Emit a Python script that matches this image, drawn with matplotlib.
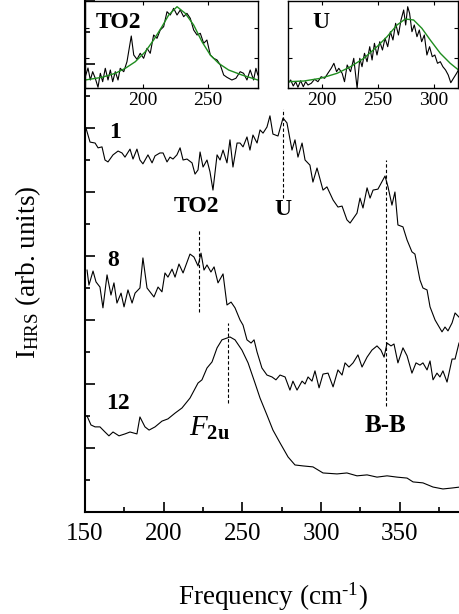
import matplotlib
matplotlib.use("Agg")
import matplotlib.pyplot as plt
from matplotlib.ticker import MultipleLocator

plt.rcParams['font.family'] = 'Liberation Serif'
plt.rcParams['mathtext.fontset'] = 'custom'
plt.rcParams['mathtext.rm'] = 'Liberation Serif'
plt.rcParams['mathtext.it'] = 'Liberation Serif:italic'
plt.rcParams['mathtext.bf'] = 'Liberation Serif:bold'

# spectrum "1"
freq1 = [150.6, 153.2, 156.4, 158.3, 160.8, 162.7, 164.6, 167.8, 171.0, 173.5, 175.4, 178.6, 180.5,
         183.0, 184.9, 186.8, 190.0, 192.6, 194.5, 197.6, 199.6, 202.1, 204.0, 205.9, 208.4, 210.4,
         212.3, 214.8, 218.0, 219.9, 221.8, 223.1, 225.0, 227.5, 229.4, 231.3, 233.9, 235.8, 237.7,
         240.2, 242.1, 244.0, 246.6, 248.5, 250.4, 252.9, 254.8, 256.7, 259.3, 261.2, 263.1, 265.6,
         267.5, 269.4, 272.6, 275.8, 278.3, 281.5, 283.4, 285.3, 287.9, 289.8, 292.9, 294.8, 297.4,
         301.2, 303.7, 307.6, 310.7, 313.3, 316.4, 318.4, 322.8, 324.7, 326.6, 329.2, 331.1, 333.0,
         336.1, 340.6, 342.5, 345.0, 346.9, 348.8, 352.0, 354.6, 357.7, 359.6, 362.8, 364.7, 367.3,
         369.2, 372.4, 376.8, 378.7, 380.6, 383.2, 385.1, 387.6]
int1 = [12.0, 11.56, 11.53, 11.38, 11.41, 11.0, 10.94, 11.16, 11.28, 11.22, 11.09, 11.34, 11.03,
        11.34, 11.0, 10.88, 11.16, 10.91, 11.13, 11.22, 11.22, 10.94, 11.09, 11.03, 11.16, 11.38,
        11.0, 11.03, 10.91, 10.56, 10.69, 11.25, 10.78, 11.0, 10.63, 10.06, 11.16, 11.0, 11.31,
        10.91, 11.63, 10.78, 11.53, 11.53, 11.41, 11.72, 11.31, 11.78, 11.53, 11.94, 11.84, 12.03,
        12.38, 11.81, 11.75, 12.31, 12.16, 11.31, 11.63, 11.09, 11.53, 11.0, 10.84, 10.31, 10.75,
        10.06, 10.16, 9.75, 9.53, 9.56, 9.13, 9.03, 9.34, 9.81, 9.5, 10.13, 9.81, 10.06,
        10.09, 10.5, 10.16, 9.59, 10.0, 8.97, 8.91, 8.5, 8.13, 8.06, 7.25, 7.0, 6.94,
        6.41, 6.0, 5.63, 5.78, 5.66, 5.91, 6.22, 6.09]

# spectrum "8"
freq8 = [151.3, 152.5, 155.1, 157.0, 159.5, 161.4, 164.0, 166.5, 168.4, 170.3, 172.9, 174.8, 177.3,
         179.9, 181.8, 184.9, 186.8, 189.4, 191.3, 193.8, 196.4, 198.9, 200.8, 202.7, 205.3, 207.2,
         209.7, 212.3, 216.7, 219.2, 221.8, 223.7, 225.6, 227.5, 230.0, 232.0, 234.5, 237.7, 240.2,
         242.8, 245.3, 248.5, 250.4, 252.9, 255.5, 257.4, 259.3, 262.4, 265.6, 268.8, 271.3, 273.9,
         277.1, 280.2, 282.1, 284.7, 287.9, 289.8, 291.7, 294.2, 296.1, 298.7, 301.2, 304.4, 307.6,
         310.7, 313.3, 315.2, 317.7, 320.3, 323.4, 326.0, 329.2, 332.3, 335.5, 338.0, 340.0, 341.9,
         344.4, 346.3, 348.8, 352.0, 354.6, 357.7, 360.3, 362.8, 364.7, 367.3, 369.2, 371.1, 373.6,
         375.5, 377.4, 380.0, 383.2, 385.1, 387.6]
int8 = [7.56, 7.09, 7.53, 7.19, 7.03, 6.38, 7.41, 6.78, 7.16, 6.53, 6.84, 6.41, 6.94,
        6.53, 6.84, 7.0, 7.94, 7.0, 6.88, 6.72, 7.03, 6.88, 7.47, 7.34, 7.59, 7.34,
        7.75, 7.47, 8.06, 7.97, 7.69, 8.09, 7.56, 7.72, 7.5, 7.66, 7.16, 7.44, 6.47,
        6.56, 6.38, 6.0, 5.84, 5.38, 5.28, 5.38, 5.0, 4.5, 4.28, 4.22, 4.13, 4.28,
        4.22, 3.81, 4.09, 3.81, 4.09, 4.0, 4.22, 4.09, 4.41, 3.88, 4.31, 4.34, 3.91,
        4.44, 4.28, 4.66, 4.53, 4.66, 4.91, 4.53, 4.84, 5.06, 5.19, 5.06, 4.84, 5.28,
        5.19, 5.25, 4.66, 5.13, 4.88, 4.34, 4.66, 4.59, 4.66, 4.44, 4.72, 4.13, 4.34,
        4.22, 4.41, 4.06, 4.78, 4.78, 5.28]

# spectrum "12"
freq12 = [151.3, 153.8, 156.4, 159.5, 162.7, 165.2, 167.8, 171.6, 175.4, 178.6, 183.0, 184.9, 188.1,
          190.7, 194.5, 198.9, 202.7, 207.2, 211.6, 216.7, 221.8, 224.3, 227.5, 230.7, 233.9, 237.0,
          242.1, 245.3, 249.7, 253.6, 258.0, 261.2, 265.6, 269.4, 273.9, 279.0, 283.4, 288.5, 294.8,
          301.2, 310.1, 316.4, 322.8, 329.2, 335.5, 341.9, 348.2, 354.6, 358.4, 364.7, 371.1, 377.4,
          383.2, 388.2]
int12 = [3.0, 2.72, 2.66, 2.66, 2.5, 2.38, 2.5, 2.38, 2.44, 2.5, 2.44, 2.97, 2.66,
         2.56, 2.66, 2.84, 2.91, 3.09, 3.25, 3.56, 4.03, 4.13, 4.5, 4.69, 5.13, 5.38,
         5.47, 5.38, 5.06, 4.66, 4.03, 3.56, 3.03, 2.56, 2.16, 1.72, 1.47, 1.44, 1.41,
         1.22, 1.19, 1.22, 1.13, 1.16, 1.09, 1.13, 1.09, 1.06, 0.94, 0.91, 0.78, 0.72,
         0.75, 0.78]

# inset TO2
freq_to2 = [155.6, 157.7, 159.5, 161.3, 163.3, 165.4, 167.2, 169.0, 171.0, 173.1, 174.9, 176.7, 178.7,
            180.8, 182.5, 185.2, 187.7, 191.0, 192.9, 195.4, 197.9, 200.5, 203.1, 205.6, 208.2, 210.8,
            213.3, 215.9, 218.5, 221.0, 223.6, 226.2, 228.7, 231.3, 233.8, 236.4, 239.0, 241.6, 244.1,
            246.7, 249.2, 251.8, 254.4, 257.0, 259.5, 262.1, 264.6, 268.4, 271.5, 274.8, 277.4, 280.0,
            282.5, 285.1, 286.9, 288.4]
int_to2 = [1.13, 2.0, 0.8, 1.63, 0.97, 0.07, 1.47, 0.63, 1.97, 0.8, 1.8, 0.63, 1.63,
           0.8, 1.97, 1.63, 2.63, 5.2, 3.3, 2.87, 3.47, 2.97, 3.97, 3.47, 5.3, 4.97,
           5.8, 6.13, 7.63, 7.3, 7.97, 7.3, 7.8, 7.13, 7.47, 6.97, 5.8, 5.3, 5.47,
           4.47, 4.8, 3.3, 2.97, 2.8, 2.3, 1.3, 1.07, 0.8, 0.97, 1.63, 1.47, 0.8,
           1.8, 0.8, 1.97, 1.3]
fit_to2_x = [155.6, 168.5, 178.7, 186.4, 194.1, 201.8, 208.2, 214.6, 219.8, 226.2, 232.5, 239.0,
             245.4, 251.8, 258.2, 265.9, 276.1, 288.4]
fit_to2_y = [0.8, 1.07, 1.47, 1.97, 2.63, 3.63, 4.8, 6.13, 7.3, 8.13, 7.47, 6.3,
             4.63, 3.3, 2.47, 1.8, 1.3, 0.8]

# inset U
freq_u = [169.6, 172.0, 174.3, 176.5, 178.5, 180.9, 183.3, 185.4, 187.5, 190.4, 193.4, 196.4, 199.3,
          202.4, 205.3, 208.3, 210.7, 213.1, 215.1, 218.1, 220.2, 222.6, 225.6, 228.5, 231.5, 233.9,
          235.9, 238.1, 240.4, 242.8, 244.9, 247.0, 249.3, 251.8, 254.2, 256.5, 258.9, 261.3, 263.6,
          266.0, 268.5, 270.8, 273.2, 275.0, 276.8, 278.5, 280.6, 282.7, 285.1, 287.2, 289.3, 291.7,
          294.0, 296.4, 298.8, 301.1, 303.5, 306.0, 308.3, 310.7, 313.1, 315.4, 317.8, 320.2, 322.3]
int_u = [0.47, 0.8, 0.2, 0.63, 0.07, 0.73, 0.13, 0.63, 0.3, 0.47, 0.87, 0.63, 1.13,
         0.97, 1.47, 1.97, 2.47, 1.63, 1.97, 1.47, 0.63, 2.3, 1.63, 2.97, -0.03, 2.97,
         2.13, 3.47, 2.63, 4.13, 2.8, 4.47, 3.3, 4.63, 3.8, 4.97, 4.13, 5.63, 4.8,
         6.47, 5.3, 6.8, 7.8, 6.3, 8.13, 7.47, 5.63, 6.3, 5.13, 5.8, 4.63, 5.3,
         3.3, 4.13, 3.13, 3.3, 2.47, 2.63, 2.13, 1.8, 1.3, 0.53, 0.97, 1.4, 1.8]
fit_u_x = [169.6, 183.9, 198.8, 213.6, 225.6, 237.5, 249.3, 258.3, 267.2, 274.7, 282.1, 289.5,
           297.0, 306.0, 314.9, 322.3]
fit_u_y = [0.63, 0.7, 0.97, 1.47, 2.13, 2.97, 4.13, 5.13, 6.3, 6.9, 6.8, 5.97,
           4.8, 3.47, 2.47, 1.8]

W, H = 459, 614
fig = plt.figure(figsize=(W / 100, H / 100), dpi=100)

ax = fig.add_axes([85 / W, 102 / H, 374 / W, 512 / H])
ax.plot(freq1, int1, color='black', lw=0.8)
ax.plot(freq8, int8, color='black', lw=0.8)
ax.plot(freq12, int12, color='black', lw=0.8)

# dashed marker lines
ax.plot([275.8, 275.8], [9.8, 12.6], color='black', lw=0.8, ls=(0, (3, 2)))
ax.plot([222.5, 222.5], [6.25, 8.8], color='black', lw=0.8, ls=(0, (3, 2)))
ax.plot([341.0, 341.0], [3.3, 11.0], color='black', lw=0.8, ls=(0, (3, 2)))
ax.plot([240.8, 240.8], [3.4, 5.9], color='black', lw=0.8, ls=(0, (3, 2)))

lab = dict(fontsize=17, fontweight='bold', ha='center', va='center')
ax.text(169, 11.85, '1', **lab)
ax.text(168, 7.85, '8', **lab)
ax.text(171, 3.4, '12', **lab)
ax.text(220.5, 9.55, 'TO2', **lab)
ax.text(275.8, 9.45, 'U', **lab)
ax.text(341, 2.7, 'B-B', fontsize=18, fontweight='bold', ha='center', va='center')
ax.text(229, 2.6, r'$\mathit{F}_{\mathbf{2u}}$', fontsize=21, ha='center', va='center')

ax.set_xlim(150, 387.6)
ax.set_ylim(0, 16)
ax.spines['top'].set_visible(False)
ax.spines['right'].set_visible(False)
for s in ('left', 'bottom'):
    ax.spines[s].set_linewidth(1.5)
ax.xaxis.set_major_locator(MultipleLocator(50))
ax.xaxis.set_minor_locator(MultipleLocator(25))
ax.yaxis.set_major_locator(MultipleLocator(2))
ax.yaxis.set_minor_locator(MultipleLocator(1))
ax.tick_params(which='both', direction='in', width=1.2)
ax.tick_params(which='major', length=7)
ax.tick_params(which='minor', length=3.5)
ax.tick_params(axis='x', labelsize=18, pad=8)
ax.set_yticklabels([])

fig.text(273 / W, 1 - 597 / H, r'Frequency (cm$^{\text{-1}}$)', fontsize=19.5, ha='center', va='center')
fig.text(28 / W, 1 - 272 / H, r'I$_{\rm HRS}$ (arb. units)', fontsize=19.5, rotation=90,
         ha='center', va='center')

# insets
ins1 = fig.add_axes([85 / W, 1 - 88 / H, 173 / W, 87 / H], facecolor='none')
ins1.plot(freq_to2, int_to2, color='black', lw=0.8)
ins1.plot(fit_to2_x, fit_to2_y, color='#1e8c1e', lw=1.0)
ins1.set_xlim(155.4, 288.5)
ins1.set_ylim(0, 8.7)
ins1.text(180.8, 6.5, 'TO2', fontsize=17, fontweight='bold', ha='center', va='center')

ins2 = fig.add_axes([288 / W, 1 - 88 / H, 170.5 / W, 87 / H], facecolor='none')
ins2.plot(freq_u, int_u, color='black', lw=0.8)
ins2.plot(fit_u_x, fit_u_y, color='#1e8c1e', lw=1.0)
ins2.set_xlim(169.6, 322.3)
ins2.set_ylim(0, 8.7)
ins2.text(199, 6.5, 'U', fontsize=17, fontweight='bold', ha='center', va='center')

for a in (ins1, ins2):
    for s in a.spines.values():
        s.set_linewidth(1.0)
    a.xaxis.set_major_locator(MultipleLocator(50))
    a.yaxis.set_major_locator(MultipleLocator(3))
    a.tick_params(which='both', direction='in', top=True, right=True, length=3, width=0.8,
                  labelsize=14, pad=3)
    a.set_yticklabels([])

fig.savefig('out.png', dpi=100)
